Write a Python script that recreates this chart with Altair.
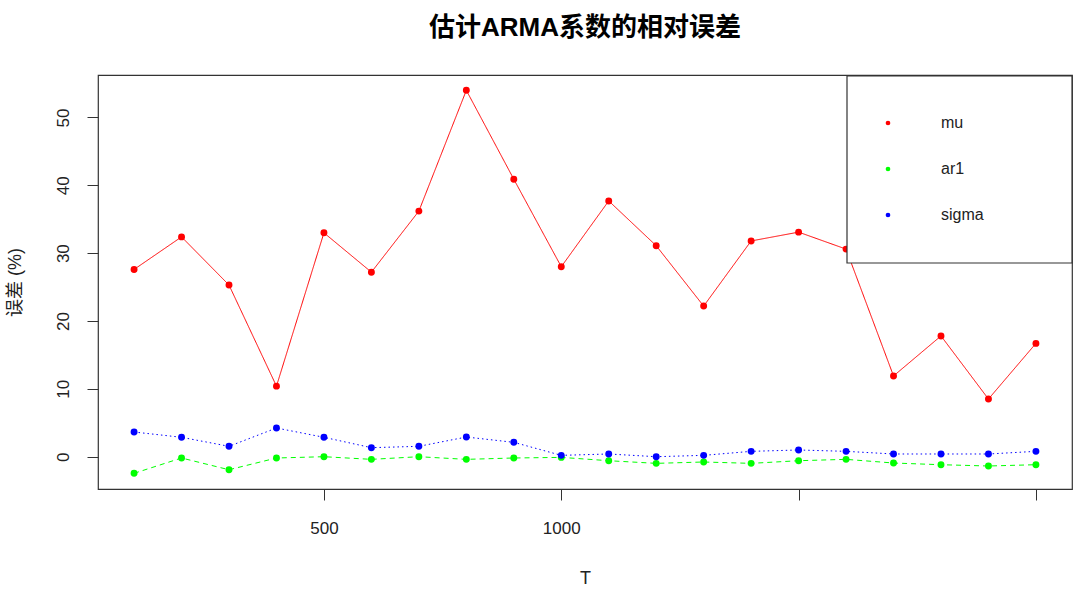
import altair as alt
import pandas as pd

T = [100, 200, 300, 400, 500, 600, 700, 800, 900, 1000,
     1100, 1200, 1300, 1400, 1500, 1600, 1700, 1800, 1900, 2000]
mu = [27.6, 32.4, 25.3, 10.4, 33.0, 27.2, 36.2, 54.0, 40.9, 28.0,
      37.7, 31.1, 22.2, 31.8, 33.1, 30.6, 11.9, 17.8, 8.5, 16.7]
ar1 = [-2.45, -0.19, -1.92, -0.19, 0.0, -0.39, 0.0, -0.39, -0.19, -0.1,
       -0.59, -0.98, -0.78, -0.98, -0.59, -0.39, -0.93, -1.18, -1.37, -1.18]
sigma = [3.64, 2.86, 1.53, 4.23, 2.86, 1.33, 1.53, 2.9, 2.12, 0.2,
         0.4, 0.0, 0.2, 0.79, 0.99, 0.79, 0.4, 0.4, 0.4, 0.79]
series_names = ["mu", "ar1", "sigma"]
series_colors = ["#FF0000", "#00FF00", "#0000FF"]
series_dash = [[1, 0], [5, 4], [1.5, 3]]
x_ticks = [500, 1000, 1500, 2000]
y_ticks = [0, 10, 20, 30, 40, 50]

rows = []
for name, vals in zip(series_names, [mu, ar1, sigma]):
    for t, v in zip(T, vals):
        rows.append({"T": t, "value": v, "series": name})
df = pd.DataFrame(rows)

W, H = 974, 414
FONT = "Liberation Sans, Noto Sans CJK SC"

x = alt.X("T:Q", scale=alt.Scale(domain=[24, 2076], nice=False, zero=False),
          axis=alt.Axis(values=x_ticks, title="T", grid=False, domain=False,
                        labelExpr="datum.value <= 1000 ? datum.label : ''",
                        labelPadding=20, titlePadding=33, format="d"))
y = alt.Y("value:Q", scale=alt.Scale(domain=[-4.76, 56.26], nice=False, zero=False),
          axis=alt.Axis(values=y_ticks, title="误差 (%)", labelAngle=270,
                        grid=False, domain=False,
                        labelAlign="center", labelBaseline="bottom",
                        labelPadding=15, titlePadding=30))

legend = alt.Legend(orient="none", legendX=782, legendY=40,
                    title=None, symbolType="circle",
                    symbolSize=22, labelOffset=45,
                    rowPadding=30, labelFontSize=16,
                    labelFont="Liberation Sans",
                    labelColor="#222", padding=0,
                    symbolStrokeWidth=0)
color = alt.Color("series:N", scale=alt.Scale(domain=series_names, range=series_colors),
                  sort=series_names, legend=legend)

lines = alt.Chart(df).mark_line(strokeWidth=1).encode(
    x=x, y=y,
    color=color,
    strokeDash=alt.StrokeDash("series:N",
                              scale=alt.Scale(domain=series_names, range=series_dash),
                              legend=None),
    detail="series:N",
)

points = alt.Chart(df).mark_point(filled=True, size=48, opacity=1).encode(
    x=x, y=y, color=color,
)

legend_box = alt.Chart(alt.Data(values=[{}])).mark_rect(
    fill="white", stroke="#333", strokeWidth=1.2
).encode(x=alt.value(749), x2=alt.value(974), y=alt.value(1), y2=alt.value(188))

chart = alt.layer(lines, points, legend_box).properties(
    width=W, height=H,
    background="white",
    autosize=alt.AutoSizeParams(type="none"),
    padding={"left": 98, "top": 75, "right": 8, "bottom": 106},
    title=alt.Title("估计ARMA系数的相对误差", fontSize=26, font=FONT,
                    fontWeight="bold", anchor="middle", offset=34,
                    color="#000"),
).configure_view(stroke="#333", strokeWidth=1.2).configure_axis(
    domain=False, grid=False, tickColor="#333", tickSize=11, tickWidth=1,
    labelFont=FONT, labelFontSize=17, labelColor="#222",
    titleFont=FONT, titleFontSize=18, titleFontWeight="normal", titleColor="#222",
)

chart.save("out.html", embed_options={"renderer": "svg", "actions": False})
